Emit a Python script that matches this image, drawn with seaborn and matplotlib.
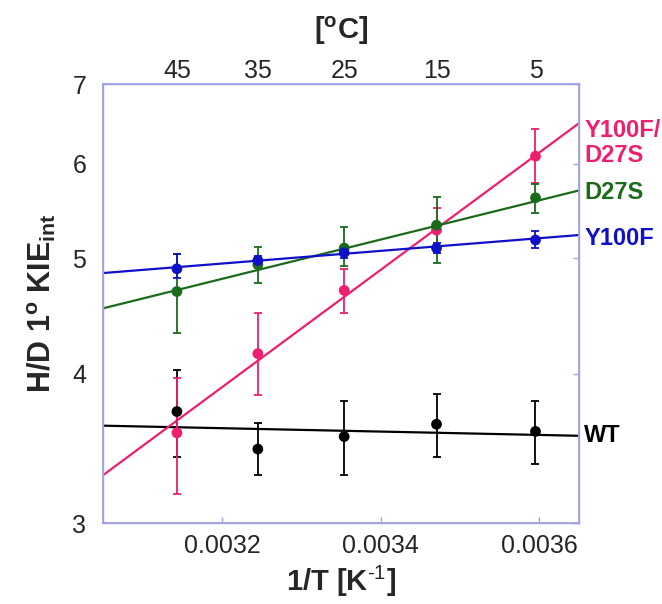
import numpy as np
import pandas as pd
import seaborn as sns
import matplotlib.pyplot as plt
import matplotlib.transforms as mtransforms
from matplotlib.ticker import FixedLocator, NullLocator

# measurement temperatures (deg C)
temps_c = [45, 35, 25, 15, 5]

series = ['WT', 'Y100F/D27S', 'D27S', 'Y100F']
colors = {'WT': '#000000', 'Y100F/D27S': '#EE1F70', 'D27S': '#1A6B1A', 'Y100F': '#1010C8'}

kie_wt = [3.72, 3.46, 3.545, 3.63, 3.58]
hi_wt = [4.03, 3.64, 3.80, 3.85, 3.80]
lo_wt = [3.41, 3.29, 3.29, 3.41, 3.36]

kie_dm = [3.57, 4.16, 4.70, 5.28, 6.09]
hi_dm = [3.97, 4.50, 4.90, 5.51, 6.42]
lo_dm = [3.17, 3.84, 4.50, 5.05, 5.78]

kie_d27s = [4.69, 4.94, 5.10, 5.33, 5.62]
hi_d27s = [5.04, 5.11, 5.31, 5.63, 5.77]
lo_d27s = [4.33, 4.77, 4.93, 4.96, 5.46]

kie_y100f = [4.90, 4.98, 5.055, 5.10, 5.18]
hi_y100f = [5.04, 5.02, 5.09, 5.15, 5.27]
lo_y100f = [4.81, 4.95, 5.00, 5.05, 5.10]

# fitted lines, read at the two ends of the axis
fit_x = [0.00305, 0.00365]
fit_wt = [3.62, 3.55]
fit_dm = [3.29, 6.49]
fit_d27s = [4.54, 5.70]
fit_y100f = [4.86, 5.23]

invT = [1.0 / (t + 273.15) for t in temps_c]

pts = pd.DataFrame({
    'invT': invT * 4,
    'kie': kie_wt + kie_dm + kie_d27s + kie_y100f,
    'hi': hi_wt + hi_dm + hi_d27s + hi_y100f,
    'lo': lo_wt + lo_dm + lo_d27s + lo_y100f,
    'enzyme': [s for s in series for _ in temps_c],
})
fits = pd.DataFrame({
    'invT': fit_x * 4,
    'kie': fit_wt + fit_dm + fit_d27s + fit_y100f,
    'enzyme': [s for s in series for _ in fit_x],
})

sns.set_theme(style='white')
plt.rcParams['font.family'] = ['Liberation Sans', 'DejaVu Sans']
plt.rcParams['mathtext.fontset'] = 'custom'
plt.rcParams['mathtext.rm'] = 'Liberation Sans'
plt.rcParams['mathtext.bf'] = 'Liberation Sans:bold'
plt.rcParams['mathtext.it'] = 'Liberation Sans:italic'

fig = plt.figure(figsize=(6.62, 6.04), dpi=100)
ax = fig.add_axes([0.1556, 0.1341, 0.719, 0.7268])

sns.lineplot(data=fits, x='invT', y='kie', hue='enzyme', palette=colors,
             linewidth=1.6, legend=False, ax=ax, zorder=2)
for name in series:
    d = pts[pts['enzyme'] == name]
    ax.errorbar(d['invT'], d['kie'], yerr=[d['kie'] - d['lo'], d['hi'] - d['kie']],
                fmt='none', ecolor=colors[name], elinewidth=1.3, capsize=3,
                capthick=1.3, zorder=3)
sns.scatterplot(data=pts, x='invT', y='kie', hue='enzyme', palette=colors,
                s=60, edgecolor='none', legend=False, ax=ax, zorder=4)

ax.set_yscale('log')
ax.set_ylim(3, 7)
ax.set_xlim(0.00305, 0.00365)
ax.yaxis.set_major_locator(FixedLocator([3, 4, 5, 6, 7]))
ax.yaxis.set_minor_locator(NullLocator())
ax.set_yticklabels(['3', '4', '5', '6', '7'])
ax.set_xticks([0.0032, 0.0034, 0.0036])
ax.set_xticklabels(['0.0032', '0.0034', '0.0036'])

spine_col = '#A0A0E6'
for sp in ax.spines.values():
    sp.set_color(spine_col)
    sp.set_linewidth(1.0)
ax.tick_params(axis='both', which='major', direction='in', length=4.5, width=1,
               color=spine_col, labelsize=18, top=True, right=True, pad=8)
ax.tick_params(axis='y', pad=12)

ax.set_xlabel('1/T [K$^{\\mathbf{\\text{-1}}}$]', fontsize=21, fontweight='bold', labelpad=4)
ax.set_ylabel('H/D 1$^{\\mathbf{o}}$ KIE$_{\\mathbf{int}}$', fontsize=22,
              fontweight='bold', labelpad=10)

top = ax.twiny()
top.set_xlim(ax.get_xlim())
top.set_xticks(invT)
top.set_xticklabels([str(t) for t in temps_c])
top.tick_params(axis='x', length=0, labelsize=18, pad=1)
for sp in top.spines.values():
    sp.set_color(spine_col)
top.set_xlabel('[$^{\\mathbf{o}}$C]', fontsize=21, fontweight='bold', labelpad=14)

trans = mtransforms.blended_transform_factory(ax.transAxes, ax.transData)
label_pos = {'Y100F/D27S': 6.25, 'D27S': 5.68, 'Y100F': 5.20, 'WT': 3.55}
label_txt = {'Y100F/D27S': 'Y100F/\nD27S', 'D27S': 'D27S', 'Y100F': 'Y100F', 'WT': 'WT'}
for name in series:
    ax.text(1.011, label_pos[name], label_txt[name], transform=trans, color=colors[name],
            fontsize=17, fontweight='bold', ha='left', va='center', linespacing=1.1)

fig.savefig('out.png', dpi=100)
